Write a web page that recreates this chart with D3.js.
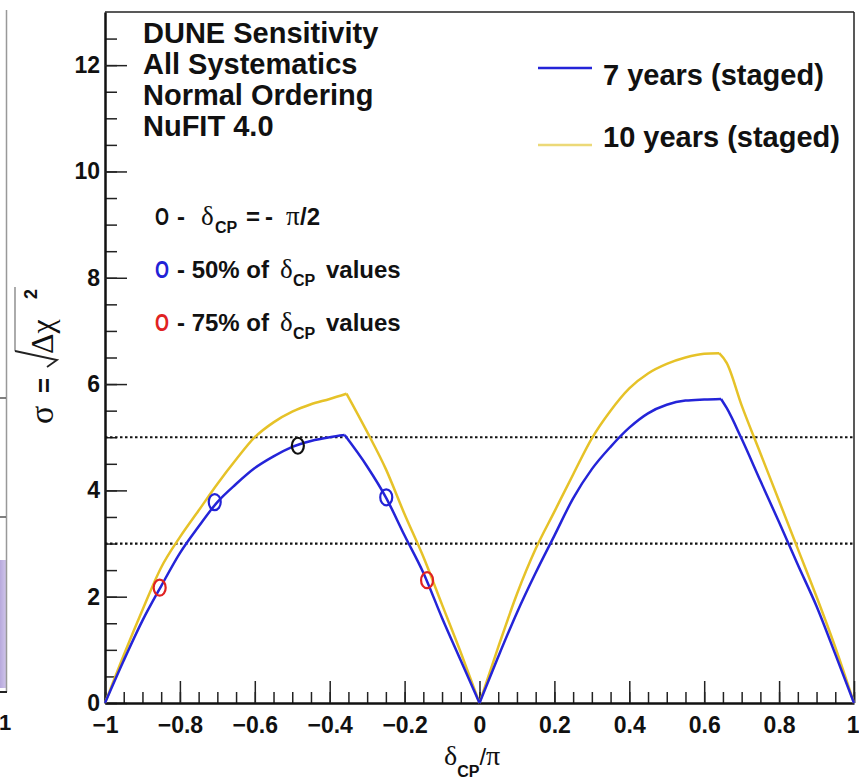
<!DOCTYPE html>
<html>
<head>
<meta charset="utf-8">
<script src="https://cdn.jsdelivr.net/npm/d3@7"></script>
<style>
  body { margin: 0; background: #fff; }
  svg { display: block; font-family: "Liberation Sans", Arial, sans-serif; }
  .tick text { font-family: "Liberation Sans", Arial, sans-serif; font-weight: bold; font-size: 23px; fill: #111; }
  .greek { font-family: "Liberation Serif", "DejaVu Serif", serif; font-weight: normal; }
</style>
</head>
<body>
<svg></svg>
<script>
// Data
var delta7 = [-1, -0.95, -0.9, -0.85, -0.8, -0.75, -0.7, -0.65, -0.6, -0.55, -0.5, -0.45, -0.4, -0.36, -0.3, -0.25, -0.2, -0.15, -0.1, -0.05,
              0, 0.05, 0.1, 0.15, 0.2, 0.25, 0.3, 0.35, 0.4, 0.45, 0.5, 0.55, 0.6, 0.645, 0.66, 0.7, 0.75, 0.8, 0.85, 0.9, 0.95, 1];
var sigma7 = [0, 0.8, 1.55, 2.2, 2.82, 3.32, 3.78, 4.12, 4.42, 4.64, 4.82, 4.93, 5.0, 5.04, 4.45, 3.87, 3.15, 2.45, 1.6, 0.8,
              0, 0.87, 1.7, 2.45, 3.15, 3.85, 4.4, 4.82, 5.18, 5.45, 5.61, 5.69, 5.71, 5.72, 5.55, 4.97, 4.18, 3.4, 2.6, 1.82, 0.92, 0];

var delta10 = [-1, -0.95, -0.9, -0.85, -0.8, -0.75, -0.7, -0.65, -0.6, -0.55, -0.5, -0.45, -0.4, -0.355, -0.3, -0.25, -0.2, -0.15, -0.1, -0.05,
               0, 0.05, 0.1, 0.15, 0.2, 0.25, 0.3, 0.35, 0.4, 0.45, 0.5, 0.55, 0.6, 0.64, 0.66, 0.7, 0.75, 0.8, 0.85, 0.9, 0.95, 1];
var sigma10 = [0, 0.9, 1.75, 2.55, 3.12, 3.62, 4.12, 4.58, 5.0, 5.28, 5.48, 5.62, 5.72, 5.82, 5.1, 4.4, 3.55, 2.75, 1.85, 0.95,
               0, 1.05, 2.05, 2.9, 3.6, 4.3, 4.98, 5.5, 5.92, 6.2, 6.38, 6.5, 6.57, 6.58, 6.4, 5.6, 4.7, 3.8, 2.9, 2.0, 1.05, 0];

// marked points on the 7 year curve
var markDelta = [-0.485, -0.707, -0.249, -0.854, -0.14];
var markSigma = [4.84, 3.78, 3.87, 2.17, 2.31];
var markColor = ["#111111", "#2222d6", "#2222d6", "#e02222", "#e02222"];

var thresholds = [3, 5];
var xMajor = [-1, -0.8, -0.6, -0.4, -0.2, 0, 0.2, 0.4, 0.6, 0.8, 1];
var yMajor = [0, 2, 4, 6, 8, 10, 12];
var titleLines = ["DUNE Sensitivity", "All Systematics", "Normal Ordering", "NuFIT 4.0"];
var seriesNames = ["7 years (staged)", "10 years (staged)"];

var blue = "#2424d8", gold = "#e6c228";

var margin = {top: 12, right: 5, bottom: 76, left: 105},
    width = 859 - margin.left - margin.right,
    height = 779 - margin.top - margin.bottom;

var root = d3.select("svg").attr("width", 859).attr("height", 779);

// remnant of neighbouring panel at the left edge
var lp = root.append("g");
var shade = root.append("defs").append("linearGradient").attr("id", "shade");
shade.append("stop").attr("offset", "0%").attr("stop-color", "#b7a9dc");
shade.append("stop").attr("offset", "100%").attr("stop-color", "#cfc4ea");
lp.append("rect").attr("x", 0).attr("y", 560).attr("width", 6).attr("height", 128).attr("fill", "url(#shade)");
lp.append("line").attr("x1", 6.5).attr("x2", 6.5).attr("y1", 10).attr("y2", 692).attr("stroke", "#999").attr("stroke-width", 1.5);
lp.append("line").attr("x1", 0).attr("x2", 7).attr("y1", 692).attr("y2", 692).attr("stroke", "#222").attr("stroke-width", 2);
[398, 517].forEach(function(v) {
  lp.append("line").attr("x1", 0).attr("x2", 6).attr("y1", v).attr("y2", v).attr("stroke", "#555").attr("stroke-width", 1.5);
});
lp.append("text").attr("x", -1).attr("y", 730).attr("font-weight", "bold").attr("font-size", 22).attr("fill", "#111").text("1");

var svg = root.append("g").attr("transform", `translate(${margin.left},${margin.top})`);

var x = d3.scaleLinear().domain([-1, 1]).range([0, width]);
var y = d3.scaleLinear().domain([0, 13]).range([height, 0]);

// frame top and right
svg.append("line").attr("x1", 0).attr("x2", width).attr("y1", 0).attr("y2", 0).attr("stroke", "#222").attr("stroke-width", 1.5);
svg.append("line").attr("x1", width).attr("x2", width).attr("y1", 0).attr("y2", height).attr("stroke", "#222").attr("stroke-width", 1.5);

// minor ticks
svg.append("g").attr("class", "minor")
  .call(d3.axisLeft(y).tickValues(d3.range(0, 13, 0.5)).tickSize(-12).tickSizeOuter(0).tickFormat(""));
svg.append("g").attr("class", "minor").attr("transform", `translate(0,${height})`)
  .call(d3.axisBottom(x).tickValues(d3.range(-20, 21).map(function(i) { return i * 0.05; })).tickSize(-11).tickSizeOuter(0).tickFormat(""));

// major ticks + labels
svg.append("g").attr("class", "major")
  .call(d3.axisLeft(y).tickValues(yMajor).tickSize(-22).tickSizeOuter(0).tickPadding(5).tickFormat(d3.format("d")));
var xg = svg.append("g").attr("class", "major").attr("transform", `translate(0,${height})`)
  .call(d3.axisBottom(x).tickValues(xMajor).tickSize(-22).tickSizeOuter(0).tickPadding(14)
    .tickFormat(function(d) { return d === 0 ? "0" : (d < 0 ? "\u2212" : "") + Math.abs(d); }));
// last label sits on the image edge
xg.selectAll(".tick text").filter(function(d) { return d === 1; }).attr("text-anchor", "end").attr("x", 5);

svg.selectAll(".minor line, .major line").attr("stroke", "#222").attr("stroke-width", 1.5);
svg.selectAll(".minor .domain").remove();
svg.selectAll(".major .domain").attr("stroke", "#111").attr("stroke-width", 2.5);

// threshold lines
thresholds.forEach(function(t) {
  svg.append("line")
    .attr("x1", 0).attr("x2", width).attr("y1", y(t)).attr("y2", y(t))
    .attr("stroke", "#111").attr("stroke-width", 2.2).attr("stroke-dasharray", "2.5,2.5");
});

// smooth within each rising / falling piece, keep the corners at the extrema
var line = d3.line().curve(d3.curveMonotoneX).x(function(d) { return x(d[0]); }).y(function(d) { return y(d[1]); });
function pieces(xs, ys) {
  var pts = d3.zip(xs, ys), out = [], start = 0;
  for (var i = 1; i < pts.length - 1; i++) {
    var a = ys[i] - ys[i - 1], b = ys[i + 1] - ys[i];
    if ((a > 0 && b < 0) || (a < 0 && b > 0)) { out.push(pts.slice(start, i + 1)); start = i; }
  }
  out.push(pts.slice(start));
  return out;
}

svg.selectAll("path.s10").data(pieces(delta10, sigma10)).enter().append("path").attr("class", "s10")
  .attr("d", line).attr("fill", "none").attr("stroke", gold).attr("stroke-width", 2.5);
svg.selectAll("path.s7").data(pieces(delta7, sigma7)).enter().append("path").attr("class", "s7")
  .attr("d", line).attr("fill", "none").attr("stroke", blue).attr("stroke-width", 2.5);

svg.selectAll("ellipse.mark")
  .data(d3.range(markDelta.length))
  .enter().append("ellipse")
  .attr("class", "mark")
  .attr("cx", function(i) { return x(markDelta[i]); })
  .attr("cy", function(i) { return y(markSigma[i]); })
  .attr("rx", 6).attr("ry", 8)
  .attr("fill", "none")
  .attr("stroke", function(i) { return markColor[i]; })
  .attr("stroke-width", 2.2);

// title block
titleLines.forEach(function(t, i) {
  root.append("text").attr("x", 143).attr("y", 43 + i * 31)
    .attr("font-weight", "bold").attr("font-size", 29).attr("fill", "#111").text(t);
});

// legend
var legColor = [blue, "#ecd978"];
var legLineY = [68, 145], legTextY = [85, 147];
seriesNames.forEach(function(name, i) {
  root.append("line").attr("x1", 538).attr("x2", 592).attr("y1", legLineY[i]).attr("y2", legLineY[i])
    .attr("stroke", legColor[i]).attr("stroke-width", 2.5);
  root.append("text").attr("x", 603).attr("y", legTextY[i])
    .attr("font-weight", "bold").attr("font-size", 29).attr("fill", "#111").text(name);
});

// marker notes
function note(yb, col, pct) {
  root.append("text").attr("x", 155).attr("y", yb).attr("font-size", 24).attr("font-weight", "bold").attr("fill", col)
    .attr("textLength", 14).attr("lengthAdjust", "spacingAndGlyphs").text("O");
  var t = root.append("text").attr("y", yb).attr("font-weight", "bold").attr("font-size", 24).attr("fill", "#111");
  if (pct === null) {
    t.append("tspan").attr("x", 177).text("-");
    t.append("tspan").attr("x", 201).attr("class", "greek").attr("font-size", 27).text("\u03b4");
    t.append("tspan").attr("x", 215).attr("dy", 8).attr("font-size", 16).text("CP");
    t.append("tspan").attr("x", 246).attr("dy", -8).text("=");
    t.append("tspan").attr("x", 265).text("-");
    t.append("tspan").attr("x", 286).attr("class", "greek").attr("font-size", 27).text("\u03c0");
    t.append("tspan").attr("x", 300).text("/2");
  } else {
    t.append("tspan").attr("x", 177).text("- " + pct + " of");
    t.append("tspan").attr("x", 280).attr("class", "greek").attr("font-size", 27).text("\u03b4");
    t.append("tspan").attr("x", 293).attr("dy", 8).attr("font-size", 16).text("CP");
    t.append("tspan").attr("x", 326).attr("dy", -8).text("values");
  }
}
note(225, "#111111", null);
note(278, "#2222d6", "50%");
note(331, "#e02222", "75%");

// x axis title
var xt = root.append("text").attr("x", 444).attr("y", 765).attr("fill", "#111").attr("font-size", 24);
xt.append("tspan").attr("class", "greek").attr("font-size", 28).text("\u03b4");
xt.append("tspan").attr("dy", 12).attr("font-size", 16).attr("font-weight", "bold").text("CP");
xt.append("tspan").attr("dy", -12).text("/");
xt.append("tspan").attr("class", "greek").attr("font-size", 28).text("\u03c0");

// y axis title (rotated)
var yt = root.append("g").attr("transform", "translate(53,355) rotate(-90)");
yt.append("text").attr("x", -69).attr("y", 0).attr("class", "greek").attr("font-size", 34).attr("fill", "#111").text("\u03c3");
yt.append("text").attr("x", -38).attr("y", 0).attr("font-weight", "bold").attr("font-size", 26).attr("fill", "#111").text("=");
yt.append("path").attr("d", "M68,-38 L4,-38").attr("stroke", "#888").attr("stroke-width", 1.4);
yt.append("path").attr("d", "M4,-38 L-5,4 L-12,-6")
  .attr("fill", "none").attr("stroke", "#222").attr("stroke-width", 1.8);
yt.append("text").attr("x", 1).attr("y", 0).attr("class", "greek").attr("font-size", 32).attr("fill", "#111").text("\u0394\u03c7");
yt.append("text").attr("x", 56).attr("y", -16).attr("font-weight", "bold").attr("font-size", 18).attr("fill", "#111").text("2");
</script>
</body>
</html>
